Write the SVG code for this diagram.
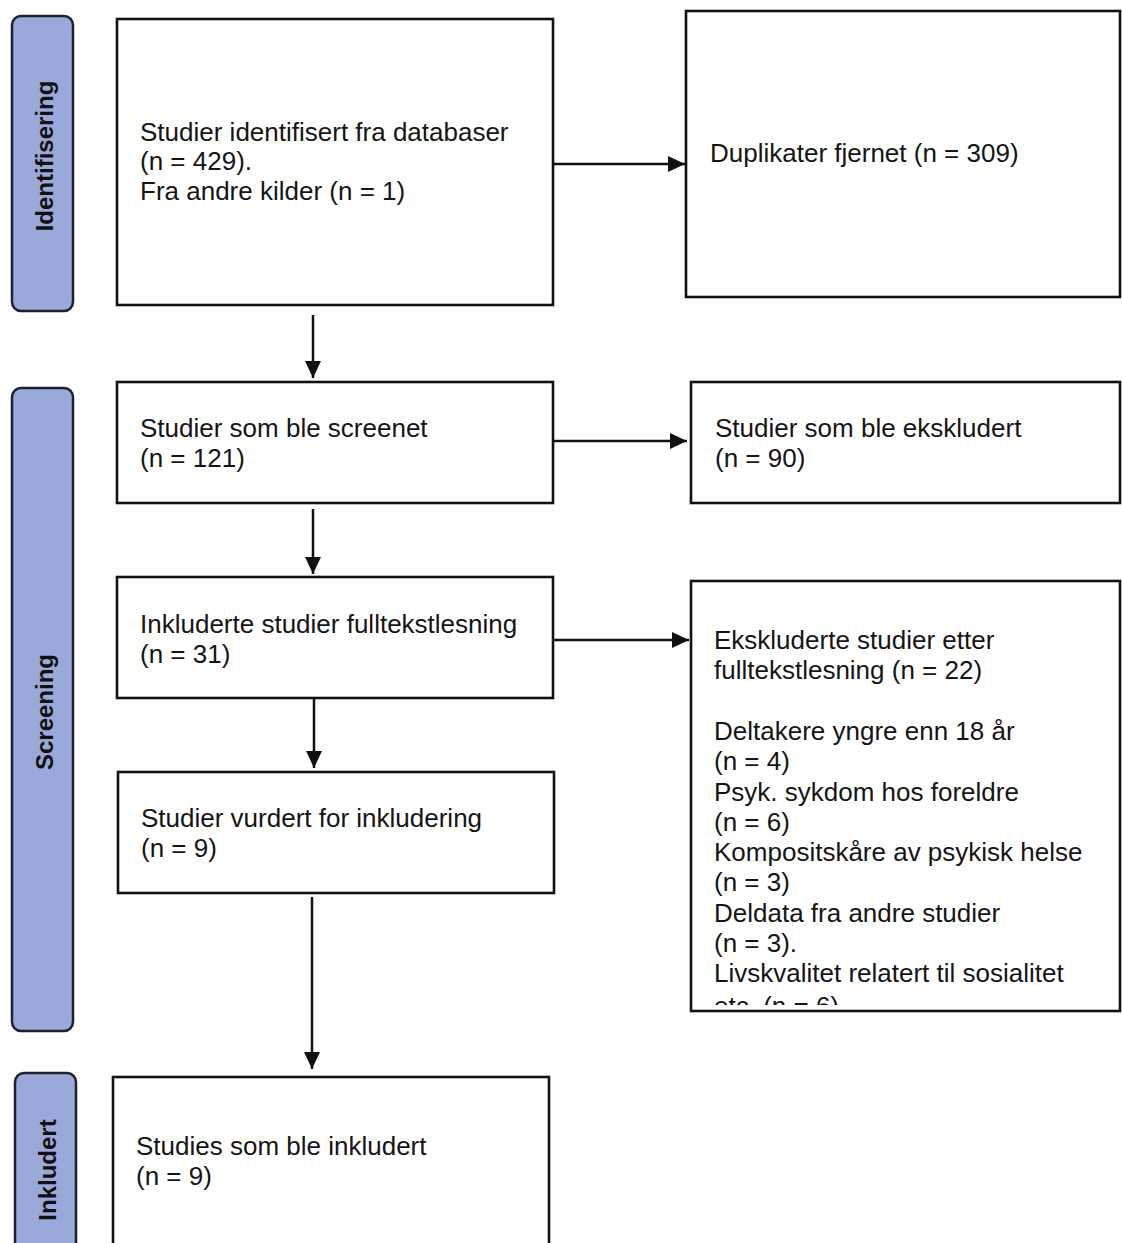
<svg xmlns="http://www.w3.org/2000/svg" width="1122" height="1243" viewBox="0 0 1122 1243">
<style>
.bar{fill:#9aa9d9;stroke:#1d2230;stroke-width:2.5}
.bl{font-family:"Liberation Sans",Arial,sans-serif;font-weight:bold;font-size:24px;fill:#111;text-anchor:middle}
.box{fill:#fff;stroke:#111;stroke-width:2.6}
.t{font-family:"Liberation Sans",Arial,sans-serif;font-size:26px;fill:#151515}
.c{stroke:#111;stroke-width:2.5;fill:none;marker-end:url(#ah)}
</style>
<defs>
<marker id="ah" markerUnits="userSpaceOnUse" markerWidth="18" markerHeight="17" refX="17" refY="8" orient="auto">
<path d="M0,0 L17,8 L0,16 z" fill="#111"/>
</marker>
<clipPath id="clip6"><rect x="691" y="581" width="431" height="424"/></clipPath>
</defs>
<rect width="1122" height="1243" fill="#fff"/>

<g id="phase-identifisering">
<rect class="bar" x="12" y="16" width="61" height="295" rx="9"/>
<text class="bl" transform="translate(53,156) rotate(-90)">Identifisering</text>
</g>
<g id="phase-screening">
<rect class="bar" x="12" y="388" width="61" height="643" rx="9"/>
<text class="bl" transform="translate(53,712) rotate(-90)">Screening</text>
</g>
<g id="phase-inkludert">
<rect class="bar" x="15" y="1073" width="61" height="190" rx="9"/>
<text class="bl" transform="translate(56,1170) rotate(-90)">Inkludert</text>
</g>

<g id="n-identifisert">
<rect class="box" x="117" y="19" width="436" height="286"/>
<text class="t" x="140" y="141">Studier identifisert fra databaser</text>
<text class="t" x="140" y="170">(n = 429).</text>
<text class="t" x="140" y="200">Fra andre kilder (n = 1)</text>
</g>
<g id="n-duplikater">
<rect class="box" x="686" y="11" width="434" height="286"/>
<text class="t" x="710" y="162">Duplikater fjernet (n = 309)</text>
</g>
<g id="n-screenet">
<rect class="box" x="117" y="382" width="436" height="121"/>
<text class="t" x="140" y="437">Studier som ble screenet</text>
<text class="t" x="140" y="467">(n = 121)</text>
</g>
<g id="n-ekskludert">
<rect class="box" x="691" y="382" width="429" height="121"/>
<text class="t" x="715" y="437">Studier som ble ekskludert</text>
<text class="t" x="715" y="467">(n = 90)</text>
</g>
<g id="n-fulltekst">
<rect class="box" x="117" y="577" width="436" height="121"/>
<text class="t" x="140" y="633">Inkluderte studier fulltekstlesning</text>
<text class="t" x="140" y="663">(n = 31)</text>
</g>
<g id="n-ekskl-fulltekst">
<rect class="box" x="691" y="581" width="429" height="430"/>
<g clip-path="url(#clip6)">
<text class="t" x="714" y="649">Ekskluderte studier etter</text>
<text class="t" x="714" y="679">fulltekstlesning (n = 22)</text>
<text class="t" x="714" y="740">Deltakere yngre enn 18 år</text>
<text class="t" x="714" y="770">(n = 4)</text>
<text class="t" x="714" y="801">Psyk. sykdom hos foreldre</text>
<text class="t" x="714" y="831">(n = 6)</text>
<text class="t" x="714" y="861">Kompositskåre av psykisk helse</text>
<text class="t" x="714" y="891">(n = 3)</text>
<text class="t" x="714" y="922">Deldata fra andre studier</text>
<text class="t" x="714" y="952">(n = 3).</text>
<text class="t" x="714" y="982">Livskvalitet relatert til sosialitet</text>
<text class="t" x="714" y="1015">etc. (n = 6)</text>
</g>
</g>
<g id="n-vurdert">
<rect class="box" x="118" y="772" width="436" height="121"/>
<text class="t" x="141" y="827">Studier vurdert for inkludering</text>
<text class="t" x="141" y="857">(n = 9)</text>
</g>
<g id="n-inkludert">
<rect class="box" x="113" y="1077" width="436" height="190"/>
<text class="t" x="136" y="1155">Studies som ble inkludert</text>
<text class="t" x="136" y="1185">(n = 9)</text>
</g>

<g id="connectors">
<line class="c" x1="553" y1="164" x2="685" y2="164"/>
<line class="c" x1="313" y1="315" x2="313" y2="378"/>
<line class="c" x1="553" y1="441" x2="687" y2="441"/>
<line class="c" x1="313" y1="509" x2="313" y2="574"/>
<line class="c" x1="553" y1="640" x2="689" y2="640"/>
<line class="c" x1="314" y1="699" x2="314" y2="768"/>
<line class="c" x1="312" y1="897" x2="312" y2="1069"/>
</g>
</svg>
